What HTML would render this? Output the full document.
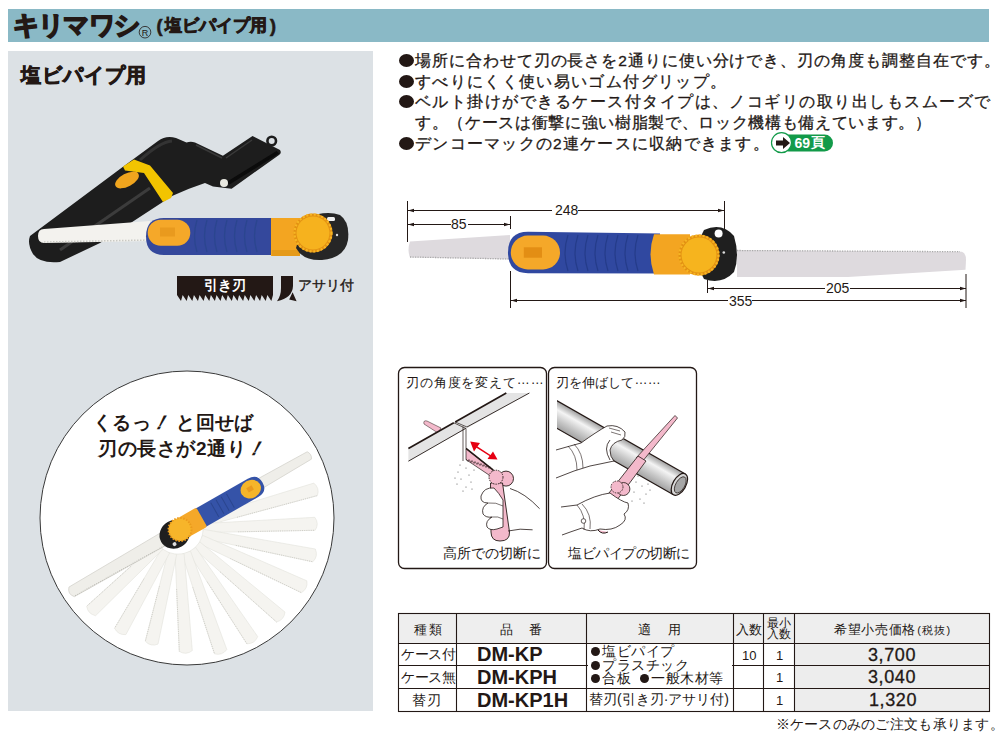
<!DOCTYPE html>
<html><head><meta charset="utf-8">
<style>
html,body{margin:0;padding:0;background:#fff;}
body{width:1001px;height:749px;position:relative;overflow:hidden;font-family:"Liberation Sans",sans-serif;color:#231815;}
.a{position:absolute;white-space:nowrap;line-height:1;}
svg.a{left:0;top:0;}
.bl{display:inline-block;width:15px;height:13px;border-radius:50%;background:#231815;vertical-align:-1px;margin-right:1px;}
.tb{font-size:13px;}
</style></head><body>
<!-- header -->
<div class="a" style="left:8px;top:9px;width:981px;height:33px;background:#8ab9c6;"></div>
<div class="a" style="left:13px;top:12px;font-size:26px;font-weight:bold;letter-spacing:-1.8px;-webkit-text-stroke:1.6px #231815;">キリマワシ</div>
<svg class="a" width="1001" height="60" style="left:0;top:0"><circle cx="145" cy="32.2" r="5.8" fill="none" stroke="#231815" stroke-width="0.8"/><text x="145" y="35.6" font-size="9" text-anchor="middle" fill="#231815" font-family="Liberation Sans">R</text></svg>
<div class="a" style="left:156.5px;top:16.5px;font-size:18px;font-weight:bold;-webkit-text-stroke:0.6px #231815;">(</div><div class="a" style="left:164.5px;top:17px;font-size:17px;font-weight:bold;letter-spacing:0px;-webkit-text-stroke:0.9px #231815;">塩ビパイプ用</div><div class="a" style="left:270px;top:16.5px;font-size:18px;font-weight:bold;-webkit-text-stroke:0.6px #231815;">)</div>

<!-- left panel -->
<div class="a" style="left:8px;top:51px;width:365px;height:660px;background:#dce1e5;"></div>
<div class="a" style="left:21px;top:65px;font-size:20px;letter-spacing:1px;-webkit-text-stroke:0.9px #231815;font-weight:bold;">塩ビパイプ用</div>

<!-- bullets -->
<div class="a" id="L1" style="left:399px;top:53px;font-size:15.5px;letter-spacing:0.94px;-webkit-text-stroke:0.3px #231815;"><span class="bl"></span>場所に合わせて刃の長さを2通りに使い分けでき、刃の角度も調整自在です。</div>
<div class="a" id="L2" style="left:399px;top:74px;font-size:15.5px;letter-spacing:1.35px;-webkit-text-stroke:0.3px #231815;"><span class="bl"></span>すべりにくく使い易いゴム付グリップ。</div>
<div class="a" id="L3" style="left:399px;top:94px;font-size:15.5px;letter-spacing:1.47px;-webkit-text-stroke:0.3px #231815;"><span class="bl"></span>ベルト掛けができるケース付タイプは、ノコギリの取り出しもスムーズで</div>
<div class="a" id="L4" style="left:415px;top:115px;font-size:15.5px;letter-spacing:0.67px;-webkit-text-stroke:0.3px #231815;">す。（ケースは衝撃に強い樹脂製で、ロック機構も備えています。）</div>
<div class="a" id="L5" style="left:399px;top:136px;font-size:15.5px;letter-spacing:1.25px;-webkit-text-stroke:0.3px #231815;"><span class="bl"></span>デンコーマックの2連ケースに収納できます。</div>

<svg class="a" width="1001" height="749" viewBox="0 0 1001 749">
  <!-- 69 badge -->
  <rect x="780" y="134.5" width="53" height="17" rx="8.5" fill="#129a49"/>
  <circle cx="781.5" cy="142.7" r="10" fill="#fff" stroke="#129a49" stroke-width="1.2"/>
  <path d="M776,140.5 h7 v-3.5 l7,6 l-7,6 v-3.5 h-7 z" fill="#231815"/>

  <!-- ===== left panel product ===== -->
  <!-- case -->
  <path d="M30,236 L124,166 L158,141 Q166,135 176,138 L186.5,142.5 Q191,141 195,142.6 L222.9,155.8 L252.5,136 L280,150 Q282,153 279,155 L231.6,188.7 L213,186.5 L205,183 L189,188.7 L172,196 L100,243 L60,262 Q40,264 33,254 Q27,244 30,236 Z" fill="#1d1d1d"/>
  <circle cx="271.7" cy="141" r="4.3" fill="none" stroke="#1d1d1d" stroke-width="2.6"/>
  <path d="M229.5,184.5 L279,153.6 L276.5,151 L226.5,182 Z" fill="#0b0b0b"/>
  <path d="M196,145 L222,158 M226,158 L252,140" stroke="#3a3a3a" stroke-width="1.5"/>
  <path d="M60,250 L150,188" stroke="#3c3c3c" stroke-width="3"/>
  <path d="M140,160 Q160,142 172,141" stroke="#333" stroke-width="3" fill="none"/>
  <path d="M123,166.5 L134,159.5 L150,165.5 L173,193 L171,198 L163,202 L144,173 L125,170.5 Z" fill="#f2c400"/>
  <ellipse cx="127" cy="180" rx="13" ry="6.5" transform="rotate(-28 127 180)" fill="#f0a51e"/>
  <circle cx="224" cy="183" r="4" fill="#e8e8e0"/>
  <!-- saw -->
  <path d="M44,229 L150,221 L150,241 L44,243 Q38,243 38,236 Q38,229 44,229 Z" fill="#f3f2ee"/>
  <path d="M44,242 L150,240" stroke="#c9c9c4" stroke-width="1.5" stroke-dasharray="1.5 1.5"/>
  <path d="M164,218 L273,218 L273,255 L164,255 Q146,255 146,236.5 Q146,218 164,218 Z" fill="#34489c"/>
  <rect x="147.7" y="219.7" width="42.6" height="26" rx="13" fill="#f5a829"/>
  <rect x="160" y="227.5" width="15" height="9" fill="#e99a1e"/>
  <g stroke="#2b468f" stroke-width="1.3" fill="none">
    <path d="M197,220 Q192,236 197,252"/><path d="M207,220 Q202,236 207,252"/><path d="M217,220 Q212,236 217,252"/><path d="M227,220 Q222,236 227,252"/><path d="M237,220 Q232,236 237,252"/><path d="M247,220 Q242,236 247,252"/><path d="M257,220 Q252,236 257,252"/>
  </g>
  <path d="M271,218 H300 V256 H271 Z" fill="#f3a521"/>
  <path d="M272,250 H300 V256 H272 Z" fill="#e59a1a"/>
  <path d="M305,218 Q326,210 340,215 Q350,222 348,240 Q345,258 322,260 Q303,261 296,248 Z" fill="#262626"/>
  <rect x="327" y="217" width="8" height="4" rx="1.5" fill="#f0f0f0"/>
  <circle cx="337" cy="235" r="1.2" fill="#ddd"/>
  <circle cx="313" cy="233" r="19.5" fill="#e39112"/><circle cx="313" cy="233" r="18.5" fill="none" stroke="#f7b624" stroke-width="2.2" stroke-dasharray="2 1.8"/><circle cx="313" cy="233" r="16.5" fill="#f6b21e"/>
  <!-- 引き刃 badge -->
  <path d="M177,276 H273 V295 L271.35,301 L267.35,295 L265.71,301 L261.71,295 L260.06,301 L256.06,295 L254.41,301 L250.41,295 L248.76,301 L244.76,295 L243.12,301 L239.12,295 L237.47,301 L233.47,295 L231.82,301 L227.82,295 L226.18,301 L222.18,295 L220.53,301 L216.53,295 L214.88,301 L210.88,295 L209.24,301 L205.24,295 L203.59,301 L199.59,295 L197.94,301 L193.94,295 L192.29,301 L188.29,295 L186.65,301 L182.65,295 L181.00,301 L177.00,295 Z" fill="#231815"/>
  <path d="M281,276 H293 V286 Q292.5,298 277,301.3 Q281,296 281,288 Z M292.6,292.3 L296.6,301.3 L289.2,299.6 Z" fill="#231815"/>

  <!-- ===== circle ===== -->
  <circle cx="187" cy="518" r="147" fill="#fff" stroke="#3a3a3a" stroke-width="1"/>
  <g fill="#f5f4f0" stroke="#e3e2dc" stroke-width="0.6">
<path d="M203.3,526.4 L317.4,495.6 Q319.9,488.1 313.8,483.1 L200.8,517.8 Z"/>
<path d="M203.2,532.6 L315.2,530.3 Q319.5,523.6 314.8,517.3 L202.8,523.6 Z"/>
<path d="M201.7,538.2 L312.8,561.8 Q318.5,556.3 315.3,549.0 L203.4,529.3 Z"/>
<path d="M198.9,543.5 L301.4,592.7 Q308.2,588.6 306.8,580.8 L202.6,535.3 Z"/>
<path d="M194.1,548.7 L276.5,622.0 Q284.1,620.0 285.0,612.1 L199.9,541.9 Z"/>
<path d="M188.2,552.3 L246.9,643.8 Q254.8,643.9 257.7,636.6 L195.6,547.3 Z"/>
<path d="M182.0,554.1 L214.5,653.8 Q222.1,655.9 226.8,649.5 L190.5,551.1 Z"/>
<path d="M175.1,554.2 L179.3,651.4 Q186.1,655.5 192.3,650.6 L184.1,553.7 Z"/>
<path d="M168.0,552.3 L145.3,641.2 Q150.7,647.1 158.0,644.1 L176.7,554.4 Z"/>
<path d="M161.8,548.6 L114.6,628.2 Q118.1,635.3 125.9,634.6 L169.6,553.0 Z"/>
<path d="M156.7,542.9 L86.7,606.2 Q87.9,614.0 95.6,615.7 L162.9,549.4 Z"/>
  </g>
  <path d="M237.1,517.3 L317.4,495.6 M238.2,531.8 L315.2,530.3 M235.9,545.4 L312.8,561.8 M230.4,558.6 L301.4,592.7 M220.2,571.9 L276.5,622.0 M207.1,581.7 L246.9,643.8 M192.8,587.4 L214.5,653.8 M176.6,589.2 L179.3,651.4 M159.4,586.3 L145.3,641.2 M144.0,578.7 L114.6,628.2 M130.8,566.4 L86.7,606.2" stroke="#cfcec8" stroke-width="1" stroke-dasharray="1 1.2" fill="none"/>
  <g transform="translate(180,529.5) rotate(-29.7)">
    <path d="M-125,-5 L0,-7 L149,-4.5 Q152,0 149,4 L0,7 L-125,6 Q-130,0.5 -125,-5 Z" fill="#efeee9" stroke="#d3d2cc" stroke-width="0.7"/><path d="M-124,5.5 L-10,6.5" stroke="#bdbcb6" stroke-width="1" stroke-dasharray="1 1.2"/>
    <path d="M22,-10.5 L84,-10.5 Q95,-10.5 95,0 Q95,10.5 84,10.5 L22,10.5 Z" fill="#3553a8"/>
    <path d="M40,-8 V8 M46,-8 V8 M52,-8 V8 M58,-8 V8" stroke="#2b468f" stroke-width="1"/>
    <ellipse cx="81.5" cy="0" rx="10.5" ry="9" fill="#f5b52a"/>
    <rect x="78" y="-3" width="6" height="5" fill="#e99a1e"/>
    <rect x="4" y="-11" width="21" height="22" rx="2" fill="#f5a829"/>
    <ellipse cx="-7" cy="1.5" rx="15.5" ry="14" fill="#1f1f1f"/>
    <circle cx="-12" cy="10" r="2" fill="#ddd"/>
    <circle cx="0" cy="0" r="11.5" fill="#f7b52a" stroke="#eb9a1c" stroke-width="2" stroke-dasharray="1.5 1.5"/>
  </g>

  <!-- ===== dimension diagram ===== -->
  <g>
    <path d="M410,241.5 L510,235 L510,259.5 L410,257.4 Q407,250 410,241.5 Z" fill="#dedade"/>
    <path d="M410,257 L510,259" stroke="#aaaaaa" stroke-width="1.3" stroke-dasharray="1.2 1.3"/>
    <path d="M737,250 L962,251.7 Q966,253 966,260 L965.5,269.7 L848,277 L737,277 Z" fill="#dedade"/>
    <path d="M737,250.5 L960,251.7" stroke="#a9a9a9" stroke-width="1.3" stroke-dasharray="1.2 1.3"/>
    <path d="M528,231.7 L660,233.5 L660,273.5 L528,273.2 Q508,273 508,252.5 Q508,231.7 528,231.7 Z" fill="#3048a0"/>
    <rect x="510.8" y="235.6" width="49.2" height="33.8" rx="16.9" fill="#f5a829"/>
    <rect x="523.8" y="247.3" width="18.2" height="10.4" fill="#e38e14"/>
    <g stroke="#253c8a" stroke-width="1.2" fill="none">
      <path d="M568,235 Q562,253 568,271"/><path d="M578,235 Q572,253 578,271"/><path d="M588,235 Q582,253 588,271"/><path d="M598,235 Q592,253 598,271"/><path d="M608,235 Q602,253 608,271"/><path d="M618,235 Q612,253 618,271"/><path d="M628,235 Q622,253 628,271"/><path d="M638,235 Q632,253 638,271"/>
    </g>
    <path d="M654,234.3 L690,234.3 L690,274.5 L654,274.5 Q647,254 654,234.3 Z" fill="#f3a521"/>
    <path d="M704,230 Q722,222 734,236 Q740,256 734,272 Q722,285 704,279 Q690,255 704,230 Z" fill="#1f1f1f"/>
    <circle cx="718.6" cy="233.5" r="4" fill="#fff"/>
    <circle cx="723.8" cy="252.5" r="1.3" fill="#ddd"/>
    <circle cx="699" cy="255" r="20.5" fill="#e39112"/><circle cx="699" cy="255" r="19.5" fill="none" stroke="#f7b624" stroke-width="2.2" stroke-dasharray="2 1.8"/><circle cx="699" cy="255" r="17.5" fill="#f6b41e"/>
  </g>
  <g stroke="#231815" stroke-width="1" fill="none">
    <path d="M407.5,201 V242 M510.5,216 V229 M510.5,271 V308 M724.5,201 V229 M707.5,280 V293 M966,274 V308"/>
    <path d="M408,210.5 H552 M578,210.5 H724"/>
    <path d="M408,224.5 H451 M468,224.5 H510"/>
    <path d="M708,288.5 H825 M850,288.5 H966"/>
    <path d="M511,300.5 H728 M752,300.5 H966"/>
  </g>
  <g fill="#231815">
    <path d="M408,210.5 l6,-1.7 v3.4 z M724,210.5 l-6,-1.7 v3.4 z M408,224.5 l6,-1.7 v3.4 z M510,224.5 l-6,-1.7 v3.4 z M708,288.5 l6,-1.7 v3.4 z M966,288.5 l-6,-1.7 v3.4 z M511,300.5 l6,-1.7 v3.4 z M966,300.5 l-6,-1.7 v3.4 z"/>
  </g>

  <!-- ===== illustration boxes ===== -->
  <rect x="398.5" y="367.5" width="148" height="201" rx="6" fill="#fff" stroke="#231815" stroke-width="1.3"/>
  <rect x="548.5" y="367.5" width="148" height="201" rx="6" fill="#fff" stroke="#231815" stroke-width="1.3"/>
  <!-- box1 drawing -->
  <path d="M424,424 Q423,420 427,421 L441,428 L438,433 Z" fill="#f3b9cb" stroke="#231815" stroke-width="0.5"/>
  <path d="M408.4,448.6 L506.3,393 L529.4,393 L408.4,461.2 Z" fill="#e4e4e4"/>
  <path d="M408.4,448.6 L453.8,422.8 M455.2,422 L506.3,393" stroke="#231815" stroke-width="1.7"/>
  <path d="M408.4,461.2 L465.7,428.4 M467,427 L529.4,393" stroke="#231815" stroke-width="0.9"/>
  <path d="M453.8,422.8 L466,428.5 L466,448 M455.2,422 L467,427 M463,426.5 V461" stroke="#231815" stroke-width="0.7" fill="none"/>
  <path d="M466,448.4 L493.3,470.2 L490.5,476 L466,459.6 Z" fill="#f3b9cb" stroke="#231815" stroke-width="0.7"/>
  <path d="M466,448.4 L493.3,470.2" stroke="#231815" stroke-width="1.6"/>
  <path d="M466,459 l2,2.5 l1,-2 l2,3 l1,-2 l2,3 l1,-2 l2,3 l1,-2 l2,3 l1,-2 l2,3 l1,-2 l2,3 l1,-2 l2,3 l1,-2" stroke="#231815" stroke-width="0.6" fill="none"/>
  <path d="M470.2,441.4 L480,443 L477.5,446.5 L490.5,455 L493,451.5 L497.5,459.6 L487.5,459 L489.5,456 L476.5,447.8 L474,451.5 Z" fill="#e60012"/>
  <circle cx="506" cy="478.6" r="7.5" fill="#f3b9cb" stroke="#231815" stroke-width="0.9"/>
  <path d="M490.5,483 L502.5,483 L509.5,532 Q510,541 500,541 Q491,541 491,532 Z" fill="#f3b9cb" stroke="#231815" stroke-width="0.9"/>
  <circle cx="496" cy="477.2" r="7" fill="#f3b9cb" stroke="#231815" stroke-width="0.9" stroke-dasharray="1.5 1"/>
  <path d="M510,488.5 Q525,493 539.6,508.7 M508,531 Q520,528 532.6,529.8" stroke="#231815" stroke-width="0.8" fill="none"/>
  <path d="M494,488 Q484,487 481,496 Q480,503 488,503 Q481,507 483,514 Q486,518 492,517 Q485,521 487,527 Q490,531 497,529 L503,527 L503,500 Q499,493 494,488 Z" fill="#fff" stroke="#231815" stroke-width="0.8"/>
  <path d="M488,503 Q496,502 503,506 M492,517 Q498,516 503,519" stroke="#231815" stroke-width="0.6" fill="none"/>
  <g fill="#555"><circle cx="460" cy="465" r="0.6"/><circle cx="466" cy="468" r="0.6"/><circle cx="458" cy="472" r="0.6"/><circle cx="469" cy="475" r="0.6"/><circle cx="461" cy="479" r="0.6"/><circle cx="471" cy="482" r="0.6"/><circle cx="457" cy="484" r="0.6"/><circle cx="466" cy="487" r="0.6"/><circle cx="474" cy="470" r="0.6"/><circle cx="455" cy="478" r="0.6"/><circle cx="463" cy="491" r="0.6"/><circle cx="472" cy="489" r="0.6"/></g>
  <!-- box2 drawing -->
  <defs>
    <linearGradient id="pg" x1="0" y1="-12" x2="0" y2="12" gradientUnits="userSpaceOnUse"><stop offset="0" stop-color="#9e9e9e"/><stop offset="0.32" stop-color="#f4f4f4"/><stop offset="0.65" stop-color="#cbcbcb"/><stop offset="1" stop-color="#a2a2a2"/></linearGradient>
    <clipPath id="b2c"><rect x="557" y="368" width="139" height="200"/></clipPath>
  </defs>
  <g clip-path="url(#b2c)">
  <g transform="translate(563,418) rotate(29.7)">
    <rect x="-30" y="-12" width="164" height="24" fill="url(#pg)"/>
    <path d="M-30,-12 H134 M-30,12 H134" stroke="#231815" stroke-width="1.2"/>
    <ellipse cx="134" cy="0" rx="6.5" ry="12" fill="#d8d8d8" stroke="#231815" stroke-width="1.2"/>
    <ellipse cx="135" cy="0" rx="4.5" ry="9" fill="#a6a6a6" stroke="#231815" stroke-width="0.7"/>
  </g>
  </g>
  <path d="M556,450 Q570,446 581,443 Q596,432 607,426 Q618,424 625,432 Q626,437 622,440 Q612,442 610,450 Q610,457 614,461 Q600,464 590,466 Q575,470 556,478" fill="#fff" stroke="#231815" stroke-width="0.8"/>
  <path d="M610,440 Q603,448 610,460" stroke="#231815" stroke-width="0.8" fill="none"/>
  <path d="M568,446 Q577,455 577,470 M574,444 Q583,453 583,468 M609,428 L620,431 M611,432 L621,435" stroke="#231815" stroke-width="0.6" fill="none"/>
  <path d="M675,415.5 L677.5,418 L642,462 L636,458 Z" fill="#f3b9cb" stroke="#231815" stroke-width="0.7"/>
  <path d="M638,456 L646,461 L617,500 Q613,505 608,501 Q606,497 609,493 Z" fill="#f3b9cb" stroke="#231815" stroke-width="0.8"/>
  <circle cx="623.4" cy="489" r="6.5" fill="#f3b9cb" stroke="#231815" stroke-width="0.8"/>
  <circle cx="617" cy="487" r="6" fill="#f3b9cb" stroke="#231815" stroke-width="0.8" stroke-dasharray="1.5 1"/>
  <path d="M561,507 L577,505 Q595,495 610,493 Q622,502 628,503 Q630,510 624,514 Q628,520 620,525 Q612,531 600,529 Q590,533 582,528 Q570,532 562,535" fill="#fff" stroke="#231815" stroke-width="0.8"/>
  <path d="M577,505 Q586,515 584,530 M582,504 Q592,514 590,529" stroke="#231815" stroke-width="0.6" fill="none"/>
  <circle cx="583.5" cy="521" r="2.3" fill="#fff" stroke="#231815" stroke-width="0.7"/>
  <path d="M598,530 Q602,535 608,532" stroke="#231815" stroke-width="1" fill="#f3b9cb"/>
  <g fill="#555"><circle cx="636" cy="482" r="0.6"/><circle cx="642" cy="486" r="0.6"/><circle cx="634" cy="492" r="0.6"/><circle cx="646" cy="494" r="0.6"/><circle cx="640" cy="499" r="0.6"/><circle cx="648" cy="484" r="0.6"/><circle cx="632" cy="501" r="0.6"/><circle cx="644" cy="503" r="0.6"/><circle cx="638" cy="476" r="0.6"/><circle cx="650" cy="490" r="0.6"/></g>
  <!-- ===== table ===== -->
  <rect x="398.5" y="613.5" width="591" height="30" fill="#eeeeee"/>
  <rect x="794.5" y="643.5" width="195" height="68" fill="#ededed"/>
  <g stroke="#231815" stroke-width="1.1" fill="none">
    <rect x="398.5" y="613.5" width="591" height="98"/>
    <path d="M456.5,613.5 V711.5 M586.5,613.5 V711.5 M733.5,613.5 V711.5 M763.5,613.5 V711.5 M794.5,613.5 V711.5"/>
    <path d="M398.5,643.5 H989.5 M398.5,665.5 H588 M732,665.5 H989.5 M398.5,688.5 H989.5"/>
  </g>
</svg>

<!-- dimension numbers -->
<div class="a" style="left:555px;top:203px;font-size:14px;">248</div>
<div class="a" style="left:451px;top:217px;font-size:14px;">85</div>
<div class="a" style="left:826px;top:281px;font-size:14px;">205</div>
<div class="a" style="left:729px;top:294px;font-size:14px;">355</div>

<!-- badge text -->
<div class="a" style="left:794.5px;top:135.5px;font-size:14px;font-weight:bold;color:#fff;">69<span style="font-size:13.5px;vertical-align:0.5px;margin-left:0.5px;">頁</span></div>
<div class="a" style="left:204px;top:278px;font-size:14px;font-weight:bold;color:#fff;">引き刃</div>
<div class="a" style="left:298px;top:278px;font-size:14px;-webkit-text-stroke:0.4px #231815;">アサリ付</div>

<!-- circle text -->
<div class="a" style="left:93px;top:413px;font-size:19px;font-weight:bold;letter-spacing:0.4px;">くるっ<i style="display:inline-block;transform:skewX(-15deg)">！</i> と回せば</div>
<div class="a" style="left:98px;top:439px;font-size:19px;font-weight:bold;letter-spacing:0.6px;">刃の長さが2通り<i style="display:inline-block;transform:skewX(-15deg)">！</i></div>

<!-- box texts -->
<div class="a" style="left:406px;top:376px;font-size:13px;letter-spacing:0.85px;">刃の角度を変えて<span style="position:relative;top:-3.5px;">……</span></div>
<div class="a" style="left:556px;top:376px;font-size:13px;letter-spacing:0.1px;">刃を伸ばして<span style="position:relative;top:-3.5px;">……</span></div>
<div class="a" style="left:443px;top:546px;font-size:14px;">高所での切断に</div>
<div class="a" style="left:568px;top:546px;font-size:14px;letter-spacing:-0.5px;">塩ビパイプの切断に</div>

<!-- table text -->
<div class="a tb" style="left:414px;top:622.5px;letter-spacing:2px;">種類</div>
<div class="a tb" style="left:500px;top:622.5px;letter-spacing:1.5px;">品　番</div>
<div class="a tb" style="left:638px;top:622.5px;letter-spacing:2.2px;">適　用</div>
<div class="a tb" style="left:736px;top:623px;">入数</div>
<div class="a" style="left:767px;top:617.5px;font-size:12px;line-height:11.5px;text-align:center;">最小<br>入数</div>
<div class="a tb" style="left:834px;top:622.5px;letter-spacing:0.7px;">希望小売価格<span style="font-size:11px;letter-spacing:1.2px;margin-left:1px;">(税抜)</span></div>
<div class="a" style="left:401px;top:647px;font-size:14px;letter-spacing:-0.3px;">ケース付</div>
<div class="a" style="left:401px;top:670px;font-size:14px;letter-spacing:-0.3px;">ケース無</div>
<div class="a" style="left:412px;top:692.5px;font-size:14px;letter-spacing:1px;">替刃</div>
<div class="a" style="left:477px;top:644px;font-size:20px;font-weight:bold;">DM-KP</div>
<div class="a" style="left:477px;top:667px;font-size:20px;font-weight:bold;">DM-KPH</div>
<div class="a" style="left:477px;top:690px;font-size:20px;font-weight:bold;">DM-KP1H</div>
<div class="a" style="left:591px;top:645px;font-size:14px;line-height:13.5px;letter-spacing:0.5px;"><span class="bl" style="width:9px;height:9px;margin-right:2px;vertical-align:0;"></span>塩ビパイプ<br><span class="bl" style="width:9px;height:9px;margin-right:2px;vertical-align:0;"></span>プラスチック<br><span class="bl" style="width:9px;height:9px;margin-right:2px;vertical-align:0;"></span>合板<span class="bl" style="width:9px;height:9px;margin-right:2px;margin-left:9px;vertical-align:0;"></span>一般木材等</div>
<div class="a" style="left:589px;top:692px;font-size:14px;">替刃(引き刃·アサリ付)</div>
<div class="a" style="left:742px;top:649px;font-size:13px;">10</div>
<div class="a" style="left:776px;top:649px;font-size:13px;">1</div>
<div class="a" style="left:776px;top:671px;font-size:13px;">1</div>
<div class="a" style="left:776px;top:694px;font-size:13px;">1</div>
<div class="a" style="left:868px;top:645.5px;font-size:18px;letter-spacing:0.6px;-webkit-text-stroke:0.3px #231815;">3,700</div>
<div class="a" style="left:868px;top:668px;font-size:18px;letter-spacing:0.6px;-webkit-text-stroke:0.3px #231815;">3,040</div>
<div class="a" style="left:869px;top:690.5px;font-size:18px;letter-spacing:0.6px;-webkit-text-stroke:0.3px #231815;">1,320</div>

<div class="a" style="left:775.5px;top:717px;font-size:14px;letter-spacing:0.28px;">※ケースのみのご注文も承ります。</div>
</body></html>
